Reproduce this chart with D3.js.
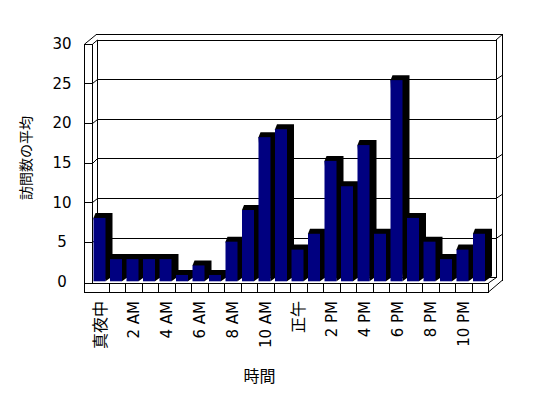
<!DOCTYPE html>
<html><head><meta charset="utf-8">
<script src="https://cdn.jsdelivr.net/npm/d3@7"></script>
<style>
html,body{margin:0;padding:0;background:#fff;}
svg{display:block;}
text{font-family:"DejaVu Sans ExtraLight","DejaVu Sans","Noto Sans CJK JP",sans-serif;fill:#000;}
text.cjk{font-family:"Noto Sans CJK JP","DejaVu Sans",sans-serif;}
</style></head>
<body>
<script>
const categories = ["真夜中","1 AM","2 AM","3 AM","4 AM","5 AM","6 AM","7 AM","8 AM","9 AM","10 AM","11 AM",
  "正午","1 PM","2 PM","3 PM","4 PM","5 PM","6 PM","7 PM","8 PM","9 PM","10 PM","11 PM"];
const values = [8, 2.8, 2.8, 2.8, 2.8, 0.8, 2, 0.8, 5, 9, 18.2, 19.2, 4, 6, 15.2, 12, 17.2, 6, 25.4, 8, 5, 2.8, 4, 6];
const xTickLabels = ["真夜中","2 AM","4 AM","6 AM","8 AM","10 AM","正午","2 PM","4 PM","6 PM","8 PM","10 PM"];
const yTicks = [0, 5, 10, 15, 20, 25, 30];
const yTitle = "訪問数の平均";
const xTitle = "時間";

const W = 548, H = 398;
const svg = d3.select("body").append("svg").attr("width", W).attr("height", H);

const x = d3.scaleBand().domain(categories).range([92, 488]);
const yF = d3.scaleLinear().domain([0, 30]).range([281.3, 43.7]);   // front plane
const yB = d3.scaleLinear().domain([0, 30]).range([277.3, 39.5]);   // back wall plane
const backL = 97, backR = 495.5, outerR = 501.5, topOuter = 34.3;
const sideL = 84, sideR = 92, floorBot = 291.5, floorTop = 282.5;

const g = svg.append("g").attr("fill", "none").attr("stroke", "#000").attr("stroke-width", 1)
  .attr("shape-rendering", "crispEdges");
const line = (pts) => g.append("path").attr("d", d3.line()(pts)).attr("fill","none").attr("stroke","#000")
  .attr("shape-rendering", pts.some((p,i)=>i>0 && p[0]!==pts[i-1][0] && p[1]!==pts[i-1][1]) ? "auto" : "crispEdges");

// back wall front face
g.append("rect").attr("x", backL + 0.5).attr("y", yB(30) + 0.5)
  .attr("width", backR - backL).attr("height", yB(0) - yB(30)).attr("fill", "#fff");
// back wall gridlines
yTicks.filter(v => v > 0 && v < 30).forEach(v => {
  line([[backL, Math.round(yB(v)) + 0.5], [backR, Math.round(yB(v)) + 0.5]]);
  line([[backR + 0.5, Math.round(yB(v)) + 0.5], [outerR + 0.5, Math.round(yB(v)) - 3.5]]);
});
// back wall thickness (top & right)
line([[96, topOuter + 0.5], [outerR + 0.5, topOuter + 0.5], [outerR + 0.5, 280.5]]);
line([[backR + 0.5, yB(30) + 0.5], [outerR + 0.5, topOuter + 0.5]]);

// side wall: front thickness face
g.append("rect").attr("x", sideL + 0.5).attr("y", yF(30) + 0.5)
  .attr("width", sideR - sideL).attr("height", floorBot - yF(30)).attr("fill", "#fff");
line([[sideL + 0.5, yF(30) + 0.5], [96, topOuter + 0.5]]);
line([[sideR + 0.5, yF(30) + 0.5], [backL + 0.5, yB(30) + 0.5]]);
yTicks.filter(v => v > 0 && v < 30).forEach(v => {
  line([[sideL, Math.round(yF(v)) + 0.5], [sideR + 0.5, Math.round(yF(v)) + 0.5]]);
  line([[sideR + 0.5, Math.round(yF(v)) + 0.5], [backL + 0.5, Math.round(yB(v)) + 0.5]]);
});

// floor front face
g.append("rect").attr("x", sideL + 0.5).attr("y", floorTop + 0.5)
  .attr("width", 488 - sideL).attr("height", floorBot - floorTop).attr("fill", "#fff");
categories.forEach((c, i) => {
  if (i > 0) line([[x(c) + 0.5, floorTop], [x(c) + 0.5, floorBot + 0.5]]);
});
line([[488.5, floorTop + 0.5], [backR + 0.5, yB(0) + 0.5]]);
line([[488.5, floorBot + 0.5], [outerR + 0.5, 280.5]]);

// bars
const bw = 12, dx = 7, dy = 5;
const bars = svg.append("g");
categories.forEach((c, i) => {
  const x0 = x(c) + 1.5, yT = yF(values[i]), yBase = yF(0);
  bars.append("path")
    .attr("d", d3.line()([[x0, yT], [x0 + 2, yT - dy], [x0 + bw + dx, yT - dy], [x0 + bw + dx, yBase - dy], [x0 + bw, yBase]]) + "Z")
    .attr("fill", "#000");
  bars.append("rect").attr("x", x0).attr("y", yT).attr("width", bw).attr("height", yBase - yT)
    .attr("fill", "#000080");
});

const isCJK = s => /[\u3040-\u9fff]/.test(s);

// y labels
svg.append("g").selectAll("text").data(yTicks).join("text")
  .attr("x", 62).attr("y", d => yF(d)).attr("dy", "0.36em")
  .attr("text-anchor", "middle").attr("font-size", 15).text(d => d);

// x labels
svg.append("g").selectAll("text").data(xTickLabels).join("text")
  .attr("class", d => isCJK(d) ? "cjk" : null)
  .attr("transform", (d, k) => `translate(${x(categories[k * 2]) + x.bandwidth() / 2},301) rotate(-90)`)
  .attr("dy", "0.36em").attr("text-anchor", "end")
  .attr("font-size", d => isCJK(d) ? 16 : 15).text(d => d);

// titles
svg.append("text").attr("class", "cjk").attr("transform", "translate(26,158) rotate(-90)").attr("dy", "0.36em")
  .attr("text-anchor", "middle").attr("font-size", 14).text(yTitle);
svg.append("text").attr("class", "cjk").attr("x", 259.5).attr("y", 376).attr("dy", "0.36em")
  .attr("text-anchor", "middle").attr("font-size", 16).text(xTitle);
</script>
</body></html>
